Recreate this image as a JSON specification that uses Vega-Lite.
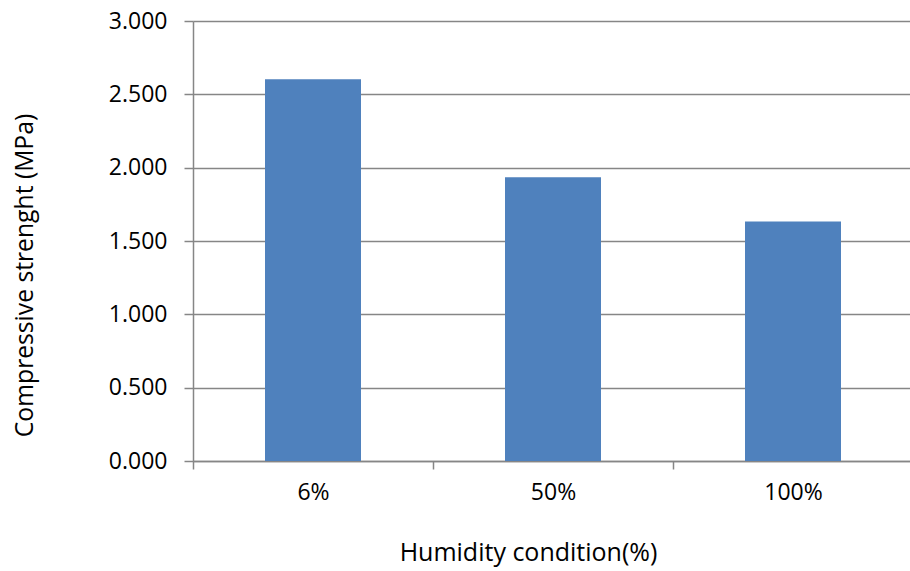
{
  "$schema": "https://vega.github.io/schema/vega-lite/v6.json",
  "autosize": {"type": "none"},
  "padding": {"left": 193, "top": 21, "right": 0, "bottom": 110},
  "width": 720,
  "height": 440,
  "background": "white",
  "data": {"values": [
    {"humidity": "6%", "strength": 2.603},
    {"humidity": "50%", "strength": 1.934},
    {"humidity": "100%", "strength": 1.633}
  ]},
  "mark": {"type": "bar", "color": "#4F81BD", "width": {"band": 0.4}},
  "encoding": {
    "x": {
      "field": "humidity", "type": "ordinal", "sort": null,
      "scale": {"paddingInner": 0, "paddingOuter": 0},
      "axis": {
        "title": "Humidity condition(%)",
        "tickBand": "extent",
        "labelAngle": 0,
        "labelFont": "Open Sans", "labelFontSize": 23, "labelColor": "#000000",
        "labelPadding": 12,
        "tickSize": 8, "tickColor": "#868686", "tickWidth": 1.5,
        "domainColor": "#868686", "domainWidth": 1.5,
        "grid": false,
        "titleFont": "Open Sans", "titleFontSize": 25, "titleFontWeight": "normal", "titleColor": "#000000",
        "titleAnchor": "start", "titleAlign": "center", "titleBaseline": "alphabetic",
        "titleX": 335, "titleY": 99
      }
    },
    "y": {
      "field": "strength", "type": "quantitative",
      "scale": {"domain": [0, 3], "nice": false},
      "axis": {
        "title": "Compressive strenght (MPa)",
        "values": [0, 0.5, 1, 1.5, 2, 2.5, 3],
        "format": ".3f",
        "labelFont": "Open Sans", "labelFontSize": 23, "labelColor": "#000000",
        "labelPadding": 17,
        "tickSize": 9, "tickColor": "#868686", "tickWidth": 1.5,
        "domainColor": "#868686", "domainWidth": 1.5,
        "grid": true, "gridColor": "#868686", "gridWidth": 1.5,
        "titleFont": "Open Sans", "titleFontSize": 24.7, "titleFontWeight": "normal", "titleColor": "#000000",
        "titleAngle": -90, "titleAlign": "center", "titleBaseline": "middle",
        "titleX": -168, "titleY": 254
      }
    }
  },
  "config": {"view": {"stroke": null}}
}
